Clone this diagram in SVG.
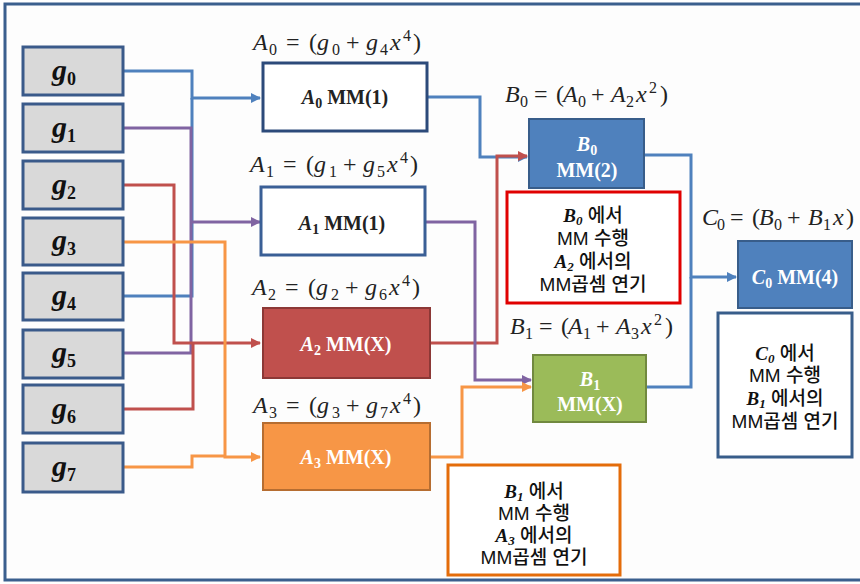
<svg xmlns="http://www.w3.org/2000/svg" width="860" height="584" viewBox="0 0 860 584">
<style>
.frame{fill:#fdfdfd;stroke:#3b5f8e;stroke-width:3}
.g{fill:#d9d9d9;stroke:#3a5a8a;stroke-width:3}
.gt{font-family:"Liberation Serif",serif;font-weight:bold;font-style:italic;font-size:30px;fill:#111}
.gs{font-size:18px;font-style:normal}
.f{font-family:"Liberation Serif",serif;font-size:24px;fill:#222}
.i{font-style:italic}
.s{font-size:16px}
.bt{font-family:"Liberation Serif",serif;font-weight:bold;font-size:20px;text-anchor:middle}
.bi{font-style:italic}
.bs{font-size:14px}
.note{font-family:"Liberation Sans","Noto Sans CJK KR",sans-serif;font-size:19px;font-weight:500;fill:#111;text-anchor:middle}
.nb{font-family:"Liberation Serif",serif;font-weight:bold;font-style:italic}
.c{fill:none;stroke-width:3}
.blue{stroke:#4f81bd}
.purple{stroke:#8064a2}
.red{stroke:#c0504d}
.orange{stroke:#f79646}
</style>
<defs>
<marker id="ab" markerUnits="userSpaceOnUse" markerWidth="10" markerHeight="10" refX="9" refY="5" orient="auto"><path d="M0,0 L10,5 L0,10 z" fill="#4f81bd"/></marker>
<marker id="ap" markerUnits="userSpaceOnUse" markerWidth="10" markerHeight="10" refX="9" refY="5" orient="auto"><path d="M0,0 L10,5 L0,10 z" fill="#8064a2"/></marker>
<marker id="ar" markerUnits="userSpaceOnUse" markerWidth="10" markerHeight="10" refX="9" refY="5" orient="auto"><path d="M0,0 L10,5 L0,10 z" fill="#c0504d"/></marker>
<marker id="ao" markerUnits="userSpaceOnUse" markerWidth="10" markerHeight="10" refX="9" refY="5" orient="auto"><path d="M0,0 L10,5 L0,10 z" fill="#f79646"/></marker>
</defs>
<rect x="0" y="0" width="860" height="584" fill="#ffffff"/>
<rect class="frame" x="5" y="4" width="870" height="576"/>

<g id="connectors">
<path class="c blue" d="M123,296 H192 V98"/>
<path class="c blue" d="M123,71 H192 V98 H260" marker-end="url(#ab)"/>
<path class="c purple" d="M123,128 H191 V353 H123"/>
<path class="c purple" d="M191,222 H260" marker-end="url(#ap)"/>
<path class="c red" d="M123,185 H174 V343 H260" marker-end="url(#ar)"/>
<path class="c red" d="M123,409 H193 V343"/>
<path class="c orange" d="M123,242 H225 V457 H260" marker-end="url(#ao)"/>
<path class="c orange" d="M123,467 H192 V456 H225"/>
<path class="c blue" d="M427,97 H480 V157 H527" marker-end="url(#ab)"/>
<path class="c red" d="M430,343 H497 V156 H527" marker-end="url(#ar)"/>
<path class="c purple" d="M425,222 H475 V380 H531" marker-end="url(#ap)"/>
<path class="c orange" d="M430,457 H462 V387 H531" marker-end="url(#ao)"/>
<path class="c blue" d="M644,155 H691 V277 H736" marker-end="url(#ab)"/>
<path class="c blue" d="M646,387 H691 V277"/>
</g>

<g id="g0"><rect class="g" x="23" y="47" width="100" height="48"/><text class="gt" x="52" y="80">g<tspan class="gs" dy="5">0</tspan></text></g>
<g id="g1"><rect class="g" x="23" y="104" width="100" height="48"/><text class="gt" x="52" y="137">g<tspan class="gs" dy="5">1</tspan></text></g>
<g id="g2"><rect class="g" x="23" y="161" width="100" height="48"/><text class="gt" x="52" y="194">g<tspan class="gs" dy="5">2</tspan></text></g>
<g id="g3"><rect class="g" x="23" y="218" width="100" height="47"/><text class="gt" x="52" y="250">g<tspan class="gs" dy="5">3</tspan></text></g>
<g id="g4"><rect class="g" x="23" y="273" width="100" height="47"/><text class="gt" x="52" y="305">g<tspan class="gs" dy="5">4</tspan></text></g>
<g id="g5"><rect class="g" x="23" y="330" width="100" height="48"/><text class="gt" x="52" y="362">g<tspan class="gs" dy="5">5</tspan></text></g>
<g id="g6"><rect class="g" x="23" y="385" width="100" height="48"/><text class="gt" x="52" y="418">g<tspan class="gs" dy="5">6</tspan></text></g>
<g id="g7"><rect class="g" x="23" y="443" width="100" height="49"/><text class="gt" x="52" y="476">g<tspan class="gs" dy="5">7</tspan></text></g>

<g id="A0">
<text class="f" transform="translate(253,50)"><tspan x="0" y="0" class="i">A</tspan><tspan x="16" y="5" class="s">0</tspan><tspan x="33" y="0">=</tspan><tspan x="56" y="0">(</tspan><tspan x="64" y="0" class="i">g</tspan><tspan x="79" y="5" class="s">0</tspan><tspan x="93" y="0">+</tspan><tspan x="113" y="0" class="i">g</tspan><tspan x="127" y="5" class="s">4</tspan><tspan x="137" y="0" class="i">x</tspan><tspan x="150" y="-9" class="s">4</tspan><tspan x="160" y="0">)</tspan></text>
<rect x="263" y="63" width="164" height="68" fill="#fff" stroke="#2c4a7a" stroke-width="3"/>
<text class="bt" x="345" y="104" fill="#222"><tspan class="bi">A</tspan><tspan class="bs" dy="4">0</tspan><tspan dy="-4"> MM(1)</tspan></text>
</g>
<g id="A1">
<text class="f" transform="translate(250,172)"><tspan x="0" y="0" class="i">A</tspan><tspan x="16" y="5" class="s">1</tspan><tspan x="33" y="0">=</tspan><tspan x="56" y="0">(</tspan><tspan x="64" y="0" class="i">g</tspan><tspan x="79" y="5" class="s">1</tspan><tspan x="93" y="0">+</tspan><tspan x="113" y="0" class="i">g</tspan><tspan x="127" y="5" class="s">5</tspan><tspan x="137" y="0" class="i">x</tspan><tspan x="150" y="-9" class="s">4</tspan><tspan x="160" y="0">)</tspan></text>
<rect x="261" y="187" width="164" height="68" fill="#fff" stroke="#3a5f96" stroke-width="3"/>
<text class="bt" x="342" y="230" fill="#222" font-size="21"><tspan class="bi">A</tspan><tspan class="bs" dy="4">1</tspan><tspan dy="-4"> MM(1)</tspan></text>
</g>
<g id="A2">
<text class="f" transform="translate(252,295)"><tspan x="0" y="0" class="i">A</tspan><tspan x="16" y="5" class="s">2</tspan><tspan x="33" y="0">=</tspan><tspan x="56" y="0">(</tspan><tspan x="64" y="0" class="i">g</tspan><tspan x="79" y="5" class="s">2</tspan><tspan x="93" y="0">+</tspan><tspan x="113" y="0" class="i">g</tspan><tspan x="127" y="5" class="s">6</tspan><tspan x="137" y="0" class="i">x</tspan><tspan x="150" y="-9" class="s">4</tspan><tspan x="160" y="0">)</tspan></text>
<rect x="263" y="308" width="167" height="70" fill="#c0504d" stroke="#8c3836" stroke-width="2"/>
<text class="bt" x="346" y="351" fill="#fff" font-size="21"><tspan class="bi">A</tspan><tspan class="bs" dy="4">2</tspan><tspan dy="-4"> MM(X)</tspan></text>
</g>
<g id="A3">
<text class="f" transform="translate(253,413)"><tspan x="0" y="0" class="i">A</tspan><tspan x="16" y="5" class="s">3</tspan><tspan x="33" y="0">=</tspan><tspan x="56" y="0">(</tspan><tspan x="64" y="0" class="i">g</tspan><tspan x="79" y="5" class="s">3</tspan><tspan x="93" y="0">+</tspan><tspan x="113" y="0" class="i">g</tspan><tspan x="127" y="5" class="s">7</tspan><tspan x="137" y="0" class="i">x</tspan><tspan x="150" y="-9" class="s">4</tspan><tspan x="160" y="0">)</tspan></text>
<rect x="263" y="423" width="167" height="67" fill="#f79646" stroke="#b66d31" stroke-width="2"/>
<text class="bt" x="346" y="464" fill="#fff" font-size="21"><tspan class="bi">A</tspan><tspan class="bs" dy="4">3</tspan><tspan dy="-4"> MM(X)</tspan></text>
</g>

<g id="B0">
<text class="f" transform="translate(505,102)"><tspan x="0" y="0" class="i">B</tspan><tspan x="15" y="5" class="s">0</tspan><tspan x="29" y="0">=</tspan><tspan x="51" y="0">(</tspan><tspan x="58" y="0" class="i">A</tspan><tspan x="73" y="5" class="s">0</tspan><tspan x="86" y="0">+</tspan><tspan x="106" y="0" class="i">A</tspan><tspan x="121" y="5" class="s">2</tspan><tspan x="131" y="0" class="i">x</tspan><tspan x="144" y="-9" class="s">2</tspan><tspan x="155" y="0">)</tspan></text>
<rect x="529" y="119" width="115" height="69" fill="#4f81bd" stroke="#385d8a" stroke-width="2"/>
<text class="bt" x="587" y="151" fill="#fff" font-size="23"><tspan class="bi">B</tspan><tspan class="bs" dy="4">0</tspan></text>
<text class="bt" x="587" y="177" fill="#fff" font-size="21">MM(2)</text>
</g>
<g id="noteB0">
<rect x="507" y="192" width="173" height="111" fill="#fff" stroke="#e00000" stroke-width="3"/>
<text class="note" x="593" y="222"><tspan class="nb">B</tspan><tspan class="nb" font-size="13" dy="3">0</tspan><tspan dy="-3"> 에서</tspan></text>
<text class="note" x="593" y="245">MM 수행</text>
<text class="note" x="593" y="268"><tspan class="nb">A</tspan><tspan class="nb" font-size="13" dy="3">2</tspan><tspan dy="-3"> 에서의</tspan></text>
<text class="note" x="593" y="291">MM곱셈 연기</text>
</g>

<g id="B1">
<text class="f" transform="translate(510,334)"><tspan x="0" y="0" class="i">B</tspan><tspan x="15" y="5" class="s">1</tspan><tspan x="29" y="0">=</tspan><tspan x="51" y="0">(</tspan><tspan x="58" y="0" class="i">A</tspan><tspan x="73" y="5" class="s">1</tspan><tspan x="86" y="0">+</tspan><tspan x="106" y="0" class="i">A</tspan><tspan x="121" y="5" class="s">3</tspan><tspan x="131" y="0" class="i">x</tspan><tspan x="144" y="-9" class="s">2</tspan><tspan x="155" y="0">)</tspan></text>
<rect x="533" y="355" width="113" height="67" fill="#9bbb59" stroke="#71893f" stroke-width="2"/>
<text class="bt" x="590" y="386" fill="#fff" font-size="23"><tspan class="bi">B</tspan><tspan class="bs" dy="4">1</tspan></text>
<text class="bt" x="590" y="411" fill="#fff" font-size="21">MM(X)</text>
</g>
<g id="noteB1">
<rect x="448" y="465" width="172" height="110" fill="#fff" stroke="#e46c0a" stroke-width="3"/>
<text class="note" x="534" y="498"><tspan class="nb">B</tspan><tspan class="nb" font-size="13" dy="3">1</tspan><tspan dy="-3"> 에서</tspan></text>
<text class="note" x="534" y="520">MM 수행</text>
<text class="note" x="534" y="542"><tspan class="nb">A</tspan><tspan class="nb" font-size="13" dy="3">3</tspan><tspan dy="-3"> 에서의</tspan></text>
<text class="note" x="534" y="564">MM곱셈 연기</text>
</g>

<g id="C0">
<text class="f" transform="translate(702,225)"><tspan x="0" y="0" class="i">C</tspan><tspan x="15" y="5" class="s">0</tspan><tspan x="28" y="0">=</tspan><tspan x="50" y="0">(</tspan><tspan x="57" y="0" class="i">B</tspan><tspan x="72" y="5" class="s">0</tspan><tspan x="85" y="0">+</tspan><tspan x="106" y="0" class="i">B</tspan><tspan x="121" y="5" class="s">1</tspan><tspan x="131" y="0" class="i">x</tspan><tspan x="144" y="0">)</tspan></text>
<rect x="738" y="241" width="114" height="67" fill="#4f81bd" stroke="#385d8a" stroke-width="2"/>
<text class="bt" x="795" y="284" fill="#fff" font-size="21"><tspan class="bi">C</tspan><tspan class="bs" dy="4">0</tspan><tspan dy="-4"> MM(4)</tspan></text>
</g>
<g id="noteC0">
<rect x="718" y="313" width="134" height="144" fill="#fff" stroke="#385d8a" stroke-width="3"/>
<text class="note" x="785" y="360"><tspan class="nb">C</tspan><tspan class="nb" font-size="13" dy="3">0</tspan><tspan dy="-3"> 에서</tspan></text>
<text class="note" x="785" y="382">MM 수행</text>
<text class="note" x="785" y="405"><tspan class="nb">B</tspan><tspan class="nb" font-size="13" dy="3">1</tspan><tspan dy="-3"> 에서의</tspan></text>
<text class="note" x="785" y="428">MM곱셈 연기</text>
</g>
</svg>
